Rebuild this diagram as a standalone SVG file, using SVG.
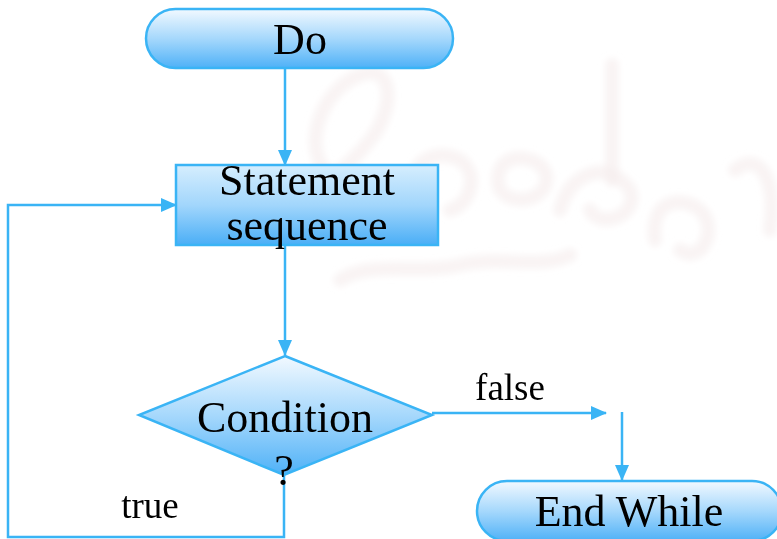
<svg xmlns="http://www.w3.org/2000/svg" width="777" height="539" viewBox="0 0 777 539">
<defs>
<style>
.node{stroke:#3ab4f5;stroke-width:2.5}
.lbl{font-family:"Liberation Serif","Times New Roman",serif;fill:#000;text-anchor:middle}
.big{font-size:44px}
.small{font-size:37px}
.con{fill:none;stroke:#3ab4f5;stroke-width:2.5}
.wm{fill:none;stroke:#f5eded;stroke-width:14;stroke-linecap:round;opacity:0.6}
</style>
<linearGradient id="g" x1="0" y1="0" x2="0" y2="1">
<stop offset="0" stop-color="#f2f9ff"/>
<stop offset="0.5" stop-color="#a6d8fc"/>
<stop offset="1" stop-color="#4fb1f7"/>
</linearGradient>
<linearGradient id="gb" x1="0" y1="0" x2="0" y2="1">
<stop offset="0" stop-color="#d6eefe"/>
<stop offset="0.5" stop-color="#a2d6fc"/>
<stop offset="1" stop-color="#4aaef6"/>
</linearGradient>
<filter id="blur" x="-10%" y="-10%" width="120%" height="120%"><feGaussianBlur stdDeviation="3"/></filter>
<marker id="ah" markerWidth="16" markerHeight="14" refX="15" refY="7" orient="auto" markerUnits="userSpaceOnUse">
<path d="M0,0 L16,7 L0,14 Z" fill="#3ab4f5"/>
</marker>
</defs>
<rect width="777" height="539" fill="#fff"/>
<g id="watermark" filter="url(#blur)">
<path class="wm" d="M330,175 C300,150 320,90 360,75 C395,62 395,110 370,140 C350,165 330,180 330,175"/>
<path class="wm" d="M420,200 C400,170 430,145 460,160 C480,175 470,205 450,210"/>
<path class="wm" d="M500,190 C490,160 520,150 540,165 C560,185 530,210 505,195"/>
<path class="wm" d="M612,65 L612,180"/>
<path class="wm" d="M560,210 C570,170 610,160 630,190 C640,215 600,230 590,210"/>
<path class="wm" d="M655,240 C650,200 680,195 700,210 C720,230 700,265 680,250"/>
<path class="wm" d="M735,170 C760,150 777,180 770,230"/>
<path class="wm" d="M340,280 C370,260 420,275 460,265 C500,255 540,270 570,255"/>
</g>
<g id="connectors">
<line class="con" x1="285" y1="68" x2="285" y2="165" marker-end="url(#ah)"/>
<line class="con" x1="285" y1="245" x2="285" y2="355" marker-end="url(#ah)"/>
<polyline class="con" points="284,475 284,537 8,537 8,205 176,205" marker-end="url(#ah)"/>
<line class="con" x1="432" y1="413" x2="606" y2="413" marker-end="url(#ah)"/>
<line class="con" x1="622" y1="412" x2="622" y2="480" marker-end="url(#ah)"/>
<text class="lbl small" x="510" y="400">false</text>
<text class="lbl small" x="150" y="518">true</text>
</g>
<g id="node-do">
<rect class="node" x="146" y="9" width="307" height="59" rx="29.5" fill="url(#g)"/>
<text class="lbl big" x="300" y="54">Do</text>
</g>
<g id="node-statement">
<rect class="node" x="176" y="165" width="262" height="80" fill="url(#gb)" stroke-width="2"/>
<text class="lbl big" x="307" y="195">Statement</text>
<text class="lbl big" x="307" y="240">sequence</text>
</g>
<g id="node-condition">
<polygon class="node" points="285,356 432,415 284,475 139,415" fill="url(#g)"/>
<text class="lbl big" x="285" y="432">Condition</text>
<text class="lbl big" x="284" y="485">?</text>
</g>
<g id="node-end">
<rect class="node" x="477" y="481" width="305" height="60" rx="30" fill="url(#g)"/>
<text class="lbl big" x="629" y="526">End While</text>
</g>
</svg>
